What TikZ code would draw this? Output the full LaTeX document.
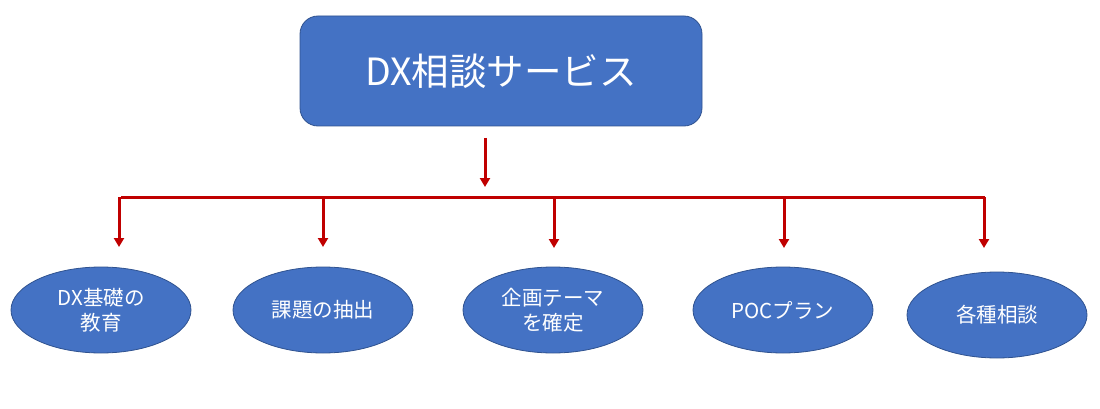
\documentclass[tikz,border=0pt]{standalone}
\usepackage{fontspec}
\setmainfont{Noto Sans CJK JP}
\usetikzlibrary{arrows.meta,shapes.geometric}
\definecolor{boxblue}{HTML}{4472C4}
\definecolor{boxedge}{HTML}{2F528F}
\definecolor{linered}{HTML}{C00000}
\tikzset{
  topbox/.style={draw=boxedge, fill=boxblue, line width=0.8pt, rounded corners=18pt,
    minimum width=402pt, minimum height=110pt, inner sep=0pt, text=white,
    font=\fontsize{37.5}{44}\selectfont},
  oval/.style={ellipse, draw=boxedge, fill=boxblue, line width=0.8pt,
    minimum width=180pt, minimum height=86pt, inner sep=0pt, text=white,
    align=center, font=\fontsize{20.5}{25}\selectfont},
  redline/.style={draw=linered, line width=3pt},
  redarrow/.style={redline, -{Triangle[length=9pt,width=10pt]}}
}
\begin{document}
\begin{tikzpicture}[x=1pt,y=-1pt]
\useasboundingbox (0,0) rectangle (1100,409);
\node[topbox] (top) at (501,71) {DX相談サービス};
\node[oval] (e1) at (101,310) {DX基礎の\\教育};
\node[oval] (e2) at (323,310) {課題の抽出};
\node[oval] (e3) at (553,310) {企画テーマ\\を確定};
\node[oval] (e4) at (783,310) {POCプラン};
\node[oval] (e5) at (997,315) {各種相談};
\coordinate (t0) at (485,138);
\coordinate (t1) at (485,187);
\coordinate (bl) at (121,197);
\coordinate (br) at (985,197);
\coordinate (b1) at (119,197);
\coordinate (b2) at (323,197);
\coordinate (b3) at (554,197);
\coordinate (b4) at (784,197);
\coordinate (b5) at (984,197);
\coordinate (d1) at (119,247);
\coordinate (d2) at (323,247);
\coordinate (d3) at (554,248);
\coordinate (d4) at (784,248);
\coordinate (d5) at (984,248);
\draw[redarrow] (t0) -- (t1);
\draw[redline] (bl) -- (br);
\draw[redarrow] (b1) -- (d1);
\draw[redarrow] (b2) -- (d2);
\draw[redarrow] (b3) -- (d3);
\draw[redarrow] (b4) -- (d4);
\draw[redarrow] (b5) -- (d5);
\end{tikzpicture}
\end{document}
